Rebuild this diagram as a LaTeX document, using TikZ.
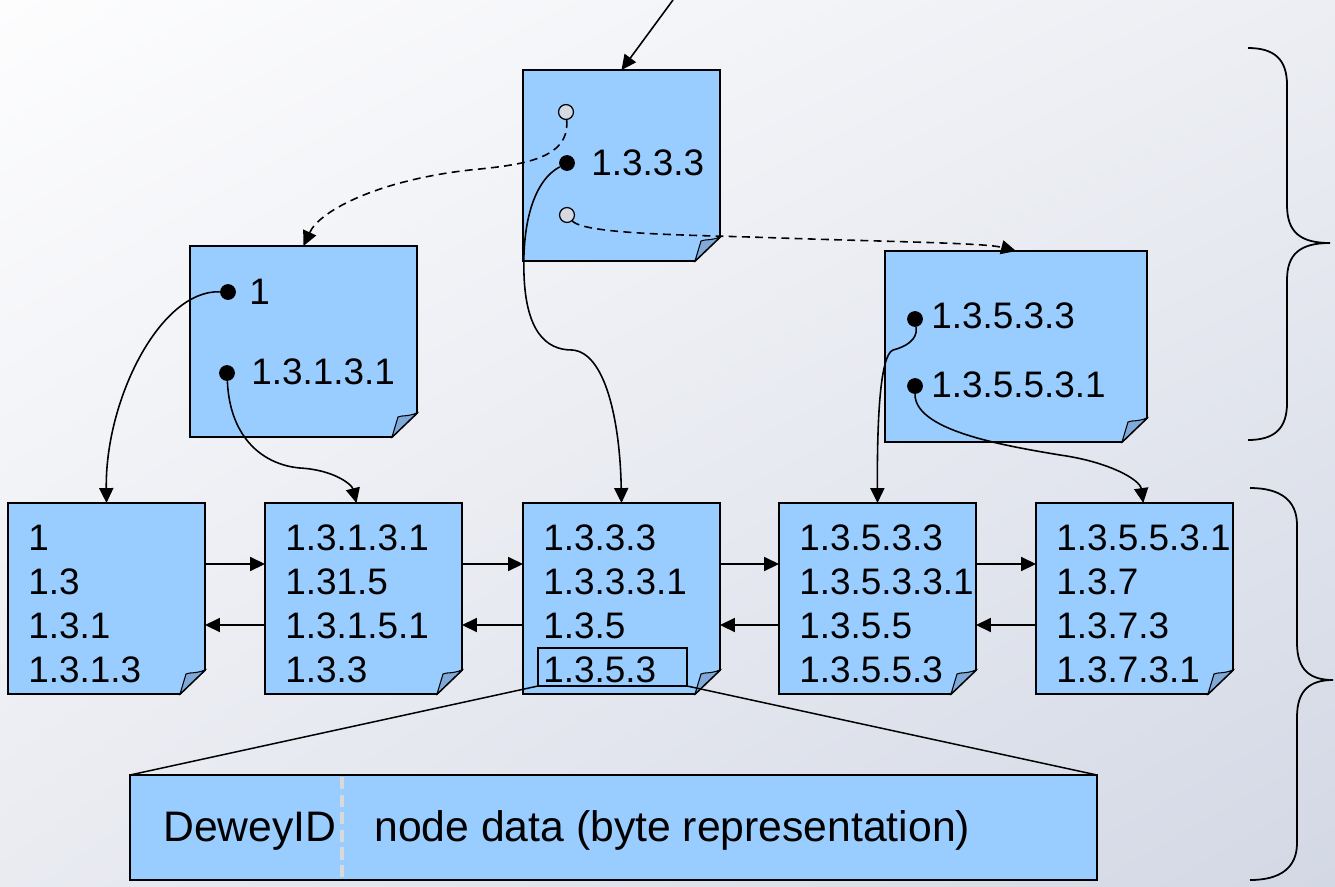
\documentclass[tikz,border=0pt]{standalone}
\usepackage{fontspec}
\setmainfont{Liberation Sans}
\usetikzlibrary{arrows.meta,fit,shadings}

\definecolor{noteblue}{HTML}{99CCFF}
\definecolor{foldblue}{HTML}{7FA9D8}
\definecolor{pinfill}{HTML}{D5D9E2}
\definecolor{bgtl}{HTML}{FDFDFE}
\definecolor{bgtr}{HTML}{ECEEF3}
\definecolor{bgbl}{HTML}{E9EBF1}
\definecolor{bgbr}{HTML}{D3D8E5}

% Notizblatt mit umgeknickter Ecke: Name, links, oben, rechts, unten
\newcommand{\notesheet}[5]{%
  \filldraw[sheet] (#2,#3) -- (#4,#3) -- (#4,#5-24) -- (#4-25,#5) -- (#2,#5) -- cycle;
  \filldraw[fold] (#4-25,#5) -- (#4-19,#5-20) .. controls (#4-15,#5-22) and (#4-10,#5-20) .. (#4,#5-24) -- cycle;
  \node[sheetarea, fit={(#2,#3) (#4,#5)}] (#1) {};
}

\begin{document}
\begin{tikzpicture}[x=0.02cm, y=-0.02cm,
	sheet/.style={fill=noteblue, draw=black, line width=1.1pt},
	fold/.style={fill=foldblue, draw=black, line width=0.6pt},
	sheetarea/.style={inner sep=0pt, outer sep=0pt},
	keylist/.style={font=\fontsize{21}{25}\selectfont, inner sep=0pt, align=left, anchor=north west},
	keytext/.style={font=\fontsize{21}{25}\selectfont, inner sep=0pt, anchor=west},
	fulldot/.style={circle, fill=black, minimum size=9pt, inner sep=0pt},
	hollowdot/.style={circle, fill=pinfill, draw=black, line width=0.7pt, minimum size=8.5pt, inner sep=0pt},
	link/.style={line width=0.9pt, -{Triangle[length=8.5pt,width=8pt]}},
	pointer/.style={link, dash pattern=on 4.5pt off 3pt},
	brace/.style={line width=1pt},
	tag/.style={draw=black, line width=0.8pt, inner sep=0pt, outer sep=0pt},
	record/.style={fill=noteblue, draw=black, line width=1.1pt, inner sep=0pt, outer sep=0pt},
	divider/.style={draw=gray!30, line width=1.8pt, dash pattern=on 7pt off 3pt}]
	\shade[upper left=bgtl, upper right=bgtr, lower left=bgbl, lower right=bgbr] (0,0) rectangle (1335,886); % Hintergrund
	\useasboundingbox (0,0) rectangle (1335,886);
	
	% Klammern rechts
	\draw[brace] (1248,48) .. controls (1275,48) and (1287,60) .. (1287,85) -- (1287,205)
		.. controls (1287,232) and (1300,243) .. (1330,243)
		.. controls (1300,243) and (1287,254) .. (1287,280) -- (1287,403)
		.. controls (1287,428) and (1275,440) .. (1248,440);
	\draw[brace] (1250,488) .. controls (1280,488) and (1297,500) .. (1297,525) -- (1297,643)
		.. controls (1297,670) and (1310,680) .. (1333,680)
		.. controls (1310,680) and (1297,690) .. (1297,717) -- (1297,843)
		.. controls (1297,868) and (1280,880) .. (1250,880);
	
	% innere Knoten
	\notesheet{root}{523}{70}{720}{261}
	\notesheet{inL}{190}{246}{417}{437}
	\notesheet{inR}{885}{251}{1147}{442}
	
	% Blaetter
	\foreach \n/\x in {A/8, B/265, C/523, D/779, E/1036}
		\notesheet{leaf\n}{\x}{503}{\x+197}{694};
	
	\node[keylist] (keysA) at (28,524.5) {1\\1.3\\1.3.1\\1.3.1.3};
	\node[keylist] (keysB) at (285,524.5) {1.3.1.3.1\\1.31.5\\1.3.1.5.1\\1.3.3};
	\node[keylist] (keysC) at (543,524.5) {1.3.3.3\\1.3.3.3.1\\1.3.5\\1.3.5.3};
	\node[keylist] (keysD) at (799,524.5) {1.3.5.3.3\\1.3.5.3.3.1\\1.3.5.5\\1.3.5.5.3};
	\node[keylist] (keysE) at (1056,524.5) {1.3.5.5.3.1\\1.3.7\\1.3.7.3\\1.3.7.3.1};
	
	\node[keytext] (rootkey) at (591,163) {1.3.3.3};
	\node[keytext] (inLkeyA) at (249,292) {1};
	\node[keytext] (inLkeyB) at (251,372) {1.3.1.3.1};
	\node[keytext] (inRkeyA) at (931,316) {1.3.5.3.3};
	\node[keytext] (inRkeyB) at (931,385) {1.3.5.5.3.1};
	
	\node[hollowdot] (rootA) at (566,112) {};
	\node[fulldot] (rootB) at (567,163) {};
	\node[hollowdot] (rootC) at (567,215) {};
	\node[fulldot] (inLA) at (228,292) {};
	\node[fulldot] (inLB) at (227,373) {};
	\node[fulldot] (inRA) at (915,319) {};
	\node[fulldot] (inRB) at (915,386) {};
	
	% Einstieg
	\coordinate (entry) at (673,0);
	\draw[link] (entry) -- (root.north);
	
	% Zeiger
	\draw[pointer] (rootA) .. controls (570,160) and (520,165) .. (470,170)
		.. controls (380,180) and (320,210) .. (inL.north);
	\draw[pointer] (rootC) .. controls (585,235) and (700,235) .. (780,238)
		.. controls (900,242) and (985,243) .. (inR.north);
	\draw[link] (rootB) .. controls (535,180) and (522,220) .. (524,275)
		.. controls (526,330) and (545,350) .. (572,350)
		.. controls (605,352) and (620,420) .. (leafC.north);
	\draw[link] (inLA) .. controls (160,290) and (105,400) .. (leafA.north);
	\draw[link] (inLB) .. controls (230,440) and (265,465) .. (300,468)
		.. controls (335,470) and (352,485) .. ([xshift=-4pt]leafB.north);
	\draw[link] (inRA) .. controls (918,340) and (905,347) .. (893,350)
		.. controls (880,355) and (877,420) .. (leafD.north);
	\draw[link] (inRB) .. controls (915,430) and (1000,445) .. (1060,455)
		.. controls (1110,462) and (1140,480) .. ([xshift=5pt]leafE.north);
	
	% Verkettung der Blaetter
	\coordinate (fwd) at (0,564);
	\coordinate (bwd) at (0,625);
	\foreach \a/\b in {leafA/leafB, leafB/leafC, leafC/leafD, leafD/leafE} {
		\draw[link] (\a.east |- fwd) -- (\b.west |- fwd);
		\draw[link] (\b.west |- bwd) -- (\a.east |- bwd);
	}
	
	% Eintrag vergroessert
	\node[tag, fit={(538,648) (687,686)}] (tag) {};
	\node[record, fit={(130,775) (1097,880)}] (record) {};
	\draw[line width=0.85pt] (tag.south west) -- (record.north west);
	\draw[line width=0.85pt] (tag.south east) -- (record.north east);
	\draw[divider] (342,777) -- (342,878);
	\node[font=\fontsize{24.3}{28}\selectfont, inner sep=0pt, anchor=base] (idtext) at (250,841) {DeweyID};
	\node[font=\fontsize{24.3}{28}\selectfont, inner sep=0pt, anchor=base west] (datatext) at (374,841) {node data (byte representation)};
\end{tikzpicture}
\end{document}
